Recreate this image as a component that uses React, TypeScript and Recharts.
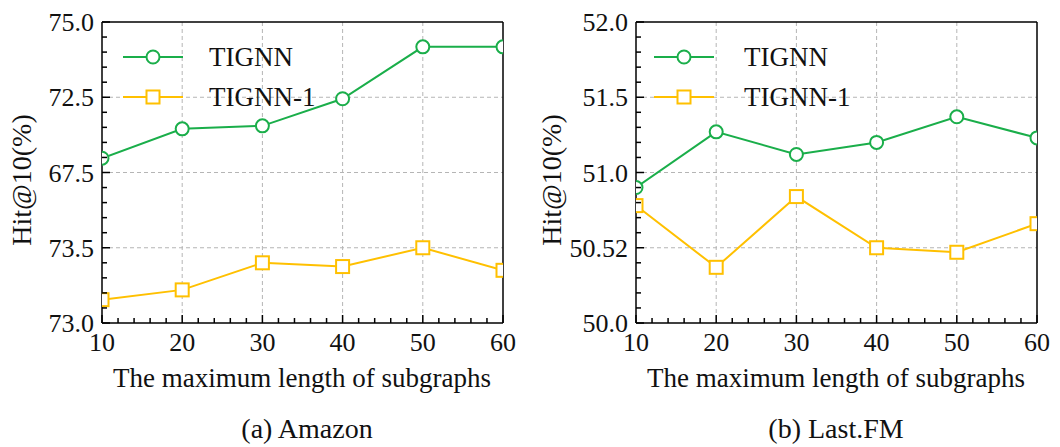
import { LineChart, Line, XAxis, YAxis, CartesianGrid } from "recharts";

const lengths = [10, 20, 30, 40, 50, 60];
const xMajor = [10, 20, 30, 40, 50, 60];

// Amazon panel: the y axis is broken, so values sit on grid positions 0..4
const amazonTicks = [0, 1, 2, 3, 4];
const amazonTickLabels = ["73.0", "73.5", "67.5", "72.5", "75.0"];
const amazonTignn = [2.19, 2.58, 2.62, 2.98, 3.67, 3.67];
const amazonTignn1 = [0.31, 0.44, 0.8, 0.75, 1.0, 0.7];

// Last.FM panel
const lastfmTicks = [50, 50.5, 51, 51.5, 52];
const lastfmTickLabels = ["50.0", "50.52", "51.0", "51.5", "52.0"];
const lastfmTignn = [50.9, 51.27, 51.12, 51.2, 51.37, 51.23];
const lastfmTignn1 = [50.78, 50.37, 50.84, 50.5, 50.47, 50.66];

const GREEN = "#1aae4a";
const YELLOW = "#ffc000";
const FONT = "'Liberation Serif', 'Times New Roman', serif";

const minorSteps = (lo: number, hi: number, n: number) => {
  const out: number[] = [];
  for (let i = 0; i <= n; i++) out.push(+(lo + ((hi - lo) * i) / n).toFixed(4));
  return out;
};

const xTicksAll = minorSteps(10, 60, 25);

const isMajor = (v: number, majors: number[]) => majors.some((m) => Math.abs(m - v) < 1e-6);

const makeXTick = (side: "bottom" | "top") => (props: any) => {
  const { x, y, payload } = props;
  const major = isMajor(payload.value, xMajor);
  const len = major ? 8 : 5;
  const dir = side === "bottom" ? -1 : 1;
  return (
    <g>
      <line x1={x} x2={x} y1={y} y2={y + dir * len} stroke="#000" strokeWidth={1.5} />
      {side === "bottom" && major && (
        <text x={x} y={y + 28} textAnchor="middle" fontFamily={FONT} fontSize={26} fill="#111">
          {payload.value}
        </text>
      )}
    </g>
  );
};

const makeYTick = (side: "left" | "right", majors: number[], labels: string[]) => (props: any) => {
  const { x, y, payload } = props;
  const idx = majors.findIndex((m) => Math.abs(m - payload.value) < 1e-6);
  const len = idx >= 0 ? 8 : 5;
  const dir = side === "left" ? 1 : -1;
  return (
    <g>
      <line x1={x} x2={x + dir * len} y1={y} y2={y} stroke="#000" strokeWidth={1.5} />
      {side === "left" && idx >= 0 && (
        <text x={x - 8} y={y + 9} textAnchor="end" fontFamily={FONT} fontSize={26} fill="#111">
          {labels[idx]}
        </text>
      )}
    </g>
  );
};

const Square = (props: any) => {
  const { cx, cy, index } = props;
  if (cx == null || cy == null) return <g key={index} />;
  return (
    <rect key={index} x={cx - 6.5} y={cy - 6.5} width={13} height={13} fill="#fff" stroke={YELLOW} strokeWidth={2} />
  );
};

const Circle = (props: any) => {
  const { cx, cy, index } = props;
  if (cx == null || cy == null) return <g key={index} />;
  return <circle key={index} cx={cx} cy={cy} r={6.5} fill="#fff" stroke={GREEN} strokeWidth={2} />;
};

const LegendBox = ({ left, textGap }: { left: number; textGap: number }) => (
  <svg width={320} height={80} style={{ position: "absolute", left, top: 39 }}>
    <line x1={0} x2={60} y1={18} y2={18} stroke={GREEN} strokeWidth={2} />
    <circle cx={30} cy={18} r={6.5} fill="#fff" stroke={GREEN} strokeWidth={2} />
    <text x={textGap} y={27} fontFamily={FONT} fontSize={27} fill="#111">TIGNN</text>
    <line x1={0} x2={60} y1={58} y2={58} stroke={YELLOW} strokeWidth={2} />
    <rect x={23.5} y={51.5} width={13} height={13} fill="#fff" stroke={YELLOW} strokeWidth={2} />
    <text x={textGap} y={67} fontFamily={FONT} fontSize={27} fill="#111">TIGNN-1</text>
  </svg>
);

type PanelProps = {
  a: number[];
  b: number[];
  ticks: number[];
  labels: string[];
  minorY: number[];
  margin: { top: number; right: number; bottom: number; left: number };
};

function Panel({ a, b, ticks, labels, minorY, margin }: PanelProps) {
  const data = lengths.map((len, i) => ({ len, tignn: a[i], tignn1: b[i] }));
  const domain: [number, number] = [ticks[0], ticks[ticks.length - 1]];
  return (
    <LineChart width={530} height={360} data={data} margin={margin}>
      <CartesianGrid
        stroke="#b5b5b5"
        strokeDasharray="4 3"
        horizontalValues={ticks.slice(1, -1)}
        verticalValues={[20, 30, 40, 50]}
      />
      <XAxis
        dataKey="len"
        type="number"
        domain={[10, 60]}
        ticks={xTicksAll}
        interval={0}
        height={1}
        tickSize={0}
        tickMargin={0}
        tickLine={false}
        allowDataOverflow
        axisLine={{ stroke: "#000", strokeWidth: 1.5 }}
        tick={makeXTick("bottom")}
      />
      <XAxis
        xAxisId="top"
        orientation="top"
        type="number"
        domain={[10, 60]}
        ticks={xTicksAll}
        interval={0}
        height={1}
        tickSize={0}
        tickMargin={0}
        tickLine={false}
        axisLine={{ stroke: "#000", strokeWidth: 1.5 }}
        tick={makeXTick("top")}
      />
      <YAxis
        type="number"
        domain={domain}
        ticks={minorY}
        interval={0}
        width={1}
        tickSize={0}
        tickMargin={0}
        tickLine={false}
        allowDataOverflow
        axisLine={{ stroke: "#000", strokeWidth: 1.5 }}
        tick={makeYTick("left", ticks, labels)}
      />
      <YAxis
        yAxisId="right"
        orientation="right"
        type="number"
        domain={domain}
        ticks={minorY}
        interval={0}
        width={1}
        tickSize={0}
        tickMargin={0}
        tickLine={false}
        axisLine={{ stroke: "#000", strokeWidth: 1.5 }}
        tick={makeYTick("right", ticks, labels)}
      />
      <Line dataKey="tignn" stroke={GREEN} strokeWidth={2} dot={<Circle />} isAnimationActive={false} />
      <Line dataKey="tignn1" stroke={YELLOW} strokeWidth={2} dot={<Square />} isAnimationActive={false} />
    </LineChart>
  );
}

const textStyle: React.CSSProperties = {
  position: "absolute",
  fontFamily: FONT,
  color: "#111",
  whiteSpace: "nowrap",
  lineHeight: 1,
};

export default function App() {
  return (
    <div style={{ position: "absolute", left: 0, top: 0, width: 1060, height: 447, background: "#fff", overflow: "hidden" }}>
      <div style={{ position: "absolute", left: 0, top: 0 }}>
        <Panel
          a={amazonTignn}
          b={amazonTignn1}
          ticks={amazonTicks}
          labels={amazonTickLabels}
          minorY={minorSteps(0, 4, 20)}
          margin={{ top: 21, right: 26, bottom: 36, left: 101 }}
        />
      </div>
      <div style={{ position: "absolute", left: 530, top: 0 }}>
        <Panel
          a={lastfmTignn}
          b={lastfmTignn1}
          ticks={lastfmTicks}
          labels={lastfmTickLabels}
          minorY={minorSteps(50, 52, 20)}
          margin={{ top: 21, right: 22, bottom: 36, left: 105 }}
        />
      </div>
      <LegendBox left={123} textGap={86} />
      <LegendBox left={654} textGap={90} />
      <div style={{ ...textStyle, fontSize: 28, left: 22, top: 180, transform: "translate(-50%, -50%) rotate(-90deg)" }}>Hit@10(%)</div>
      <div style={{ ...textStyle, fontSize: 28, left: 552, top: 180, transform: "translate(-50%, -50%) rotate(-90deg)" }}>Hit@10(%)</div>
      <div style={{ ...textStyle, fontSize: 27, left: 302, top: 378, transform: "translate(-50%, -50%)" }}>The maximum length of subgraphs</div>
      <div style={{ ...textStyle, fontSize: 27, left: 836, top: 378, transform: "translate(-50%, -50%)" }}>The maximum length of subgraphs</div>
      <div style={{ ...textStyle, fontSize: 28, left: 307, top: 415, transform: "translateX(-50%)" }}>(a) Amazon</div>
      <div style={{ ...textStyle, fontSize: 28, left: 836, top: 415, transform: "translateX(-50%)" }}>(b) Last.FM</div>
    </div>
  );
}
